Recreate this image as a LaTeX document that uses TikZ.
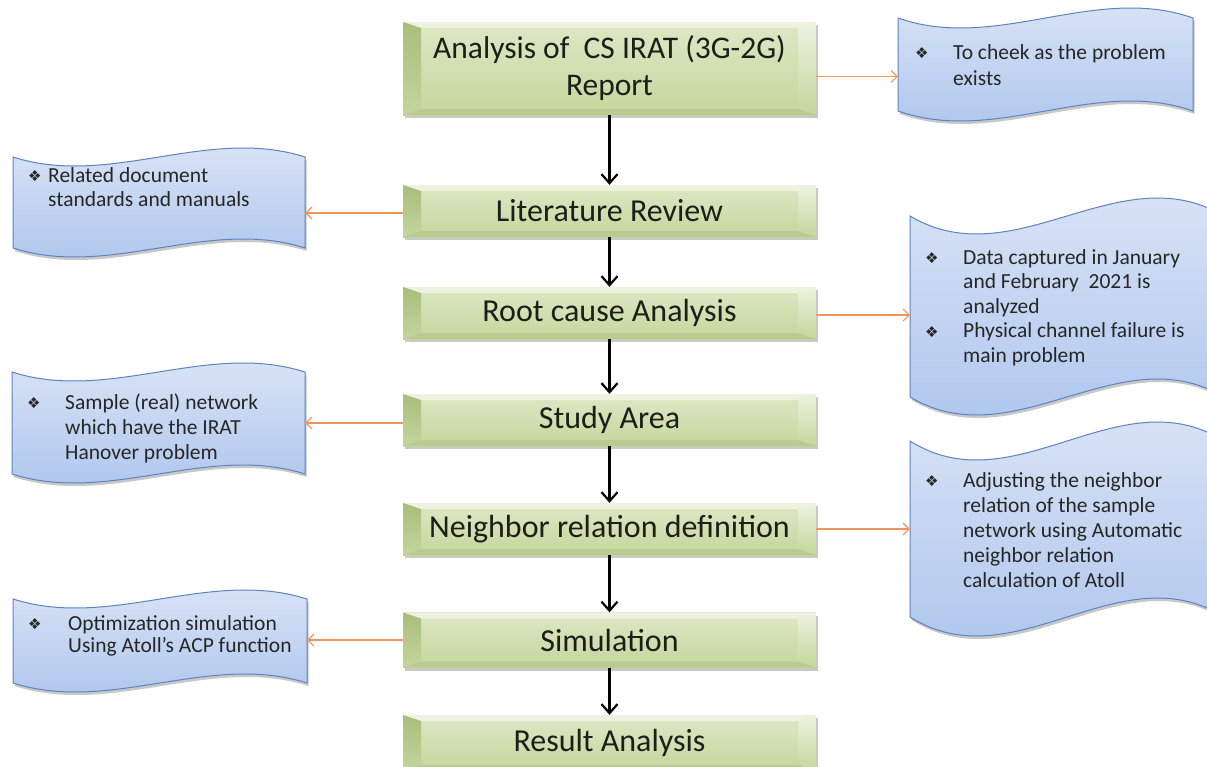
\documentclass[tikz,border=0pt]{standalone}
\usepackage{fontspec}
\setmainfont{Carlito}
\newfontfamily\symfont{DejaVu Sans}
\usetikzlibrary{arrows.meta,shadows,fit}
\pgfdeclarelayer{background}
\pgfsetlayers{background,main}

\definecolor{faceTop}{HTML}{DEE8C6}
\definecolor{faceBot}{HTML}{C4D69C}
\definecolor{bevLight}{HTML}{EDF3E0}
\definecolor{bevDark}{HTML}{A9BD7B}
\definecolor{bevLow}{HTML}{BACB91}
\definecolor{docTop}{HTML}{DFE7F7}
\definecolor{docBot}{HTML}{A9C3EC}
\definecolor{docLine}{HTML}{5F83BF}
\definecolor{linkOrange}{HTML}{F0955A}
\definecolor{ink}{HTML}{1C1F18}
\definecolor{docInk}{HTML}{262626}

% bullet used in the note shapes
\newcommand\bul{{\symfont\fontsize{15}{15}\selectfont\raisebox{0.5pt}{❖}}}
% bullet list: #1 bullet column width, #2 line distance, #3 rows
\newcommand\docitems[3]{%
  \fontsize{21.5}{#2}\selectfont
  \begin{tabular}[t]{@{}p{#1}@{}l@{}}#3\end{tabular}}

% wavy note: #1 name, #2/#3 left/top, #4/#5 right/bottom, #6 wave amplitude
% (top and bottom edges sag on the left and rise on the right)
\newcommand\docnote[6]{%
  \node[docarea, fit={(#2,#3) (#4,#5)}] (#1) {};
  \pgfmathsetmacro\wA{#2+(#4-#2)/3}%
  \pgfmathsetmacro\wB{#2+2*(#4-#2)/3}%
  \pgfmathsetmacro\wK{3.46*#6}%
  \begin{pgfonlayer}{background}
  \path[docshape]
    (#2,#3) .. controls (\wA,#3+\wK) and (\wB,#3-\wK) .. (#4,#3)
    -- (#4,#5) .. controls (\wB,#5-\wK) and (\wA,#5+\wK) .. (#2,#5)
    -- cycle;
  \end{pgfonlayer}}

\tikzset{
  stage/.style={minimum width=413pt, minimum height=52pt, inner sep=0pt,
    text=ink, font=\fontsize{32}{37}\selectfont, align=center,
    top color=faceTop, bottom color=faceBot,
    drop shadow={opacity=0.3, shadow xshift=2pt, shadow yshift=-3pt, fill=black!70},
    path picture={
      \coordinate (pnw) at (path picture bounding box.north west);
      \coordinate (pne) at (path picture bounding box.north east);
      \coordinate (psw) at (path picture bounding box.south west);
      \coordinate (pse) at (path picture bounding box.south east);
      \fill[bevLight] (pnw) -- (pne) -- ([shift={(-18pt,-6pt)}]pne) -- ([shift={(18pt,-6pt)}]pnw) -- cycle;
      \shade[top color=bevDark, bottom color=faceBot]
        (pnw) -- ([shift={(18pt,-6pt)}]pnw) -- ([shift={(18pt,6pt)}]psw) -- (psw) -- cycle;
      \shade[top color=bevLight, bottom color=faceBot]
        (pne) -- ([shift={(-18pt,-6pt)}]pne) -- ([shift={(-18pt,6pt)}]pse) -- (pse) -- cycle;
      \fill[bevLow] (psw) -- ([shift={(18pt,6pt)}]psw) -- ([shift={(-18pt,6pt)}]pse) -- (pse) -- cycle;
    }},
  docarea/.style={inner sep=0pt, draw=none},
  docshape/.style={top color=docTop, bottom color=docBot, draw=docLine, line width=1pt,
    drop shadow={opacity=0.3, shadow xshift=1.5pt, shadow yshift=-3pt, fill=black!70}},
  doctext/.style={anchor=base west, inner sep=0pt, text=docInk, align=left},
  flow/.style={draw=black, line width=2.2pt, -{Straight Barb[length=9pt,width=16pt]}},
  link/.style={draw=linkOrange, line width=1.1pt, -{Straight Barb[length=6pt,width=12pt]}}
}

\begin{document}
\begin{tikzpicture}[x=1pt,y=-1pt]
\useasboundingbox (0,0) rectangle (1207,766);
\begin{pgfonlayer}{background}
  \fill[white] (0,0) rectangle (1207,766);
\end{pgfonlayer}

% main process column
\node[stage, minimum height=93pt, font=\fontsize{31.5}{37}\selectfont] (s1) at (609.5,68.5) {Analysis of\ \ CS IRAT (3G-2G)\\Report};
\node[stage] (s2) at (609.5,211) {Literature Review};
\node[stage] (s3) at (609.5,313) {Root cause Analysis};
\node[stage] (s4) at (609.5,420) {Study Area};
\node[stage] (s5) at (609.5,529) {Neighbor relation definition};
\node[stage, minimum height=55pt] (s6) at (609.5,640) {Simulation};
\node[stage, minimum height=56pt] (s7) at (609.5,743) {Result Analysis};

\draw[flow] (s1.south) -- (s2.north);
\draw[flow] (s2.south) -- (s3.north);
\draw[flow] (s3.south) -- (s4.north);
\draw[flow] (s4.south) -- (s5.north);
\draw[flow] (s5.south) -- (s6.north);
\draw[flow] (s6.south) -- (s7.north);

% side notes
\docnote{d1}{898}{18}{1193}{111}{10}
\docnote{d2}{13}{157}{305}{248}{9}
\docnote{d3}{910}{216}{1224}{397}{18}
\docnote{d4}{12}{372}{305}{474}{9}
\docnote{d5}{910}{441}{1224}{617}{19}
\docnote{d6}{13}{599}{307}{683}{9}

\node[doctext] (t1) at (915,59) {\docitems{38pt}{26pt}{\bul & To cheek as the problem\\ & exists}};
\node[doctext] (t2) at (28,182) {\docitems{20pt}{24pt}{\bul & Related document\\ & standards and manuals}};
\node[doctext] (t3) at (925,264) {\docitems{38pt}{24.5pt}{\bul & Data captured in January\\ & and February\ \ 2021 is\\ & analyzed\\ \bul & Physical channel failure is\\ & main problem}};
\node[doctext] (t4) at (27,409) {\docitems{38pt}{25pt}{\bul & Sample (real) network\\ & which have the IRAT\\ & Hanover problem}};
\node[doctext] (t5) at (925,487) {\docitems{38pt}{25pt}{\bul & Adjusting the neighbor\\ & relation of the sample\\ & network using Automatic\\ & neighbor relation\\ & calculation of Atoll}};
\node[doctext] (t6) at (28,630) {\docitems{40pt}{22pt}{\bul & Optimization simulation\\ & Using Atoll’s ACP function}};

\draw[link] ([yshift=-8pt]s1.east) -- ([yshift=-8pt]s1.east -| d1.west);
\draw[link] ([yshift=-2pt]s2.west) -- ([yshift=-2pt]s2.west -| d2.east);
\draw[link] ([yshift=-2pt]s3.east) -- ([yshift=-2pt]s3.east -| d3.west);
\draw[link] ([yshift=-3pt]s4.west) -- ([yshift=-3pt]s4.west -| d4.east);
\draw[link] (s5.east) -- (s5.east -| d5.west);
\draw[link] (s6.west) -- (s6.west -| d6.east);
\end{tikzpicture}
\end{document}
